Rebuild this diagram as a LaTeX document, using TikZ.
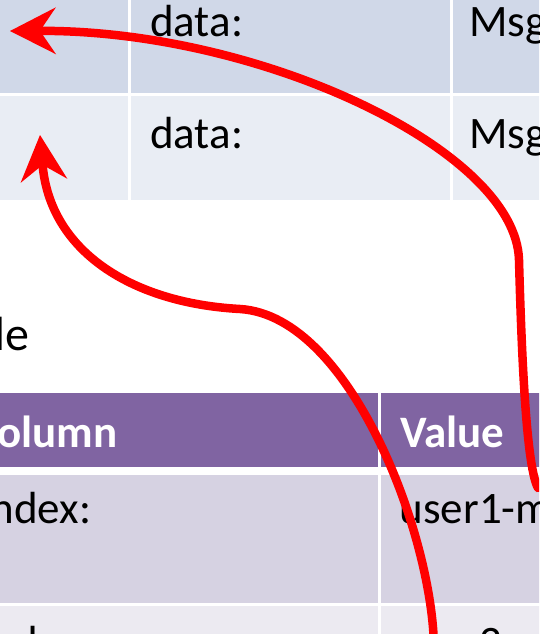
\documentclass[tikz,border=0pt]{standalone}
\usepackage{fontspec}
\setmainfont{Carlito}
\usetikzlibrary{arrows.meta}

\definecolor{topA}{HTML}{D0D8E8}
\definecolor{topB}{HTML}{E9EDF4}
\definecolor{hdr}{HTML}{8064A2}
\definecolor{lavA}{HTML}{D6D2E2}
\definecolor{lavB}{HTML}{ECEAF1}
\definecolor{arrowred}{HTML}{FF0000}

\tikzset{
  txt/.style={anchor=base west, inner sep=0pt, text=black,
              font=\fontsize{45}{54}\selectfont},
  hdtxt/.style={anchor=base west, inner sep=0pt, text=white,
                font=\fontsize{45}{54}\selectfont\bfseries},
  captxt/.style={anchor=base east, inner sep=0pt, text=black,
                 font=\fontsize{48}{58}\selectfont},
  redarrow/.style={draw=arrowred, line width=8.5pt, line cap=round,
    -{Stealth[length=46pt, width=47pt, inset=16pt, line width=0pt]}},
}

\begin{document}
\begin{tikzpicture}[x=1pt, y=-1pt]
\useasboundingbox (0,0) rectangle (539,634);
\clip (0,0) rectangle (539,634);
\fill[white] (0,0) rectangle (539,634);

% upper table: two data rows, three columns
\fill[topA] (-60,-20) rectangle (128,93);
\fill[topA] (131,-20) rectangle (450,93);
\fill[topA] (453,-20) rectangle (600,93);
\fill[topB] (-60,96) rectangle (128,200);
\fill[topB] (131,96) rectangle (450,200);
\fill[topB] (453,96) rectangle (600,200);

\node[txt] (d1) at (150,37) {data:};
\node[txt] (m1) at (469,37) {Msg};
\node[txt] (d2) at (150,148) {data:};
\node[txt] (m2) at (469,148) {Msg};

% caption of the lower table
\node[captxt] (cap) at (30,350) {Table};

% lower table: header and body rows
\fill[hdr] (-60,393) rectangle (378,467);
\fill[hdr] (381,393) rectangle (600,467);
\fill[lavA] (-60,475) rectangle (378,603);
\fill[lavA] (381,475) rectangle (600,603);
\fill[lavB] (-60,606) rectangle (378,700);
\fill[lavB] (381,606) rectangle (600,700);

\node[hdtxt] (hc) at (-27,447) {Column};
\node[hdtxt] (hv) at (400,447) {Value};
\node[txt] (i1) at (-21,523) {Index:};
\node[txt] (u1) at (399.5,523) {user1-msg};
\node[txt] (i2) at (-21,657) {Index:};
\node[txt] (u2) at (399.5,657) {user2-msg};

% arrow ends
\coordinate (tailA) at (538,488);
\coordinate (bendA) at (519,260);
\coordinate (tipA) at (10,31);
\coordinate (tailB) at (434,650);
\coordinate (bendB) at (240,309);
\coordinate (tipB) at (40,135);

\draw[redarrow] (tailA) .. controls (527,468) and (522,370) .. (bendA)
                        .. controls (516,150) and (260,30) .. (tipA);
\draw[redarrow] (tailB) .. controls (434,540) and (352,316) .. (bendB)
                        .. controls (130,303) and (50,250) .. (tipB);
\end{tikzpicture}
\end{document}
